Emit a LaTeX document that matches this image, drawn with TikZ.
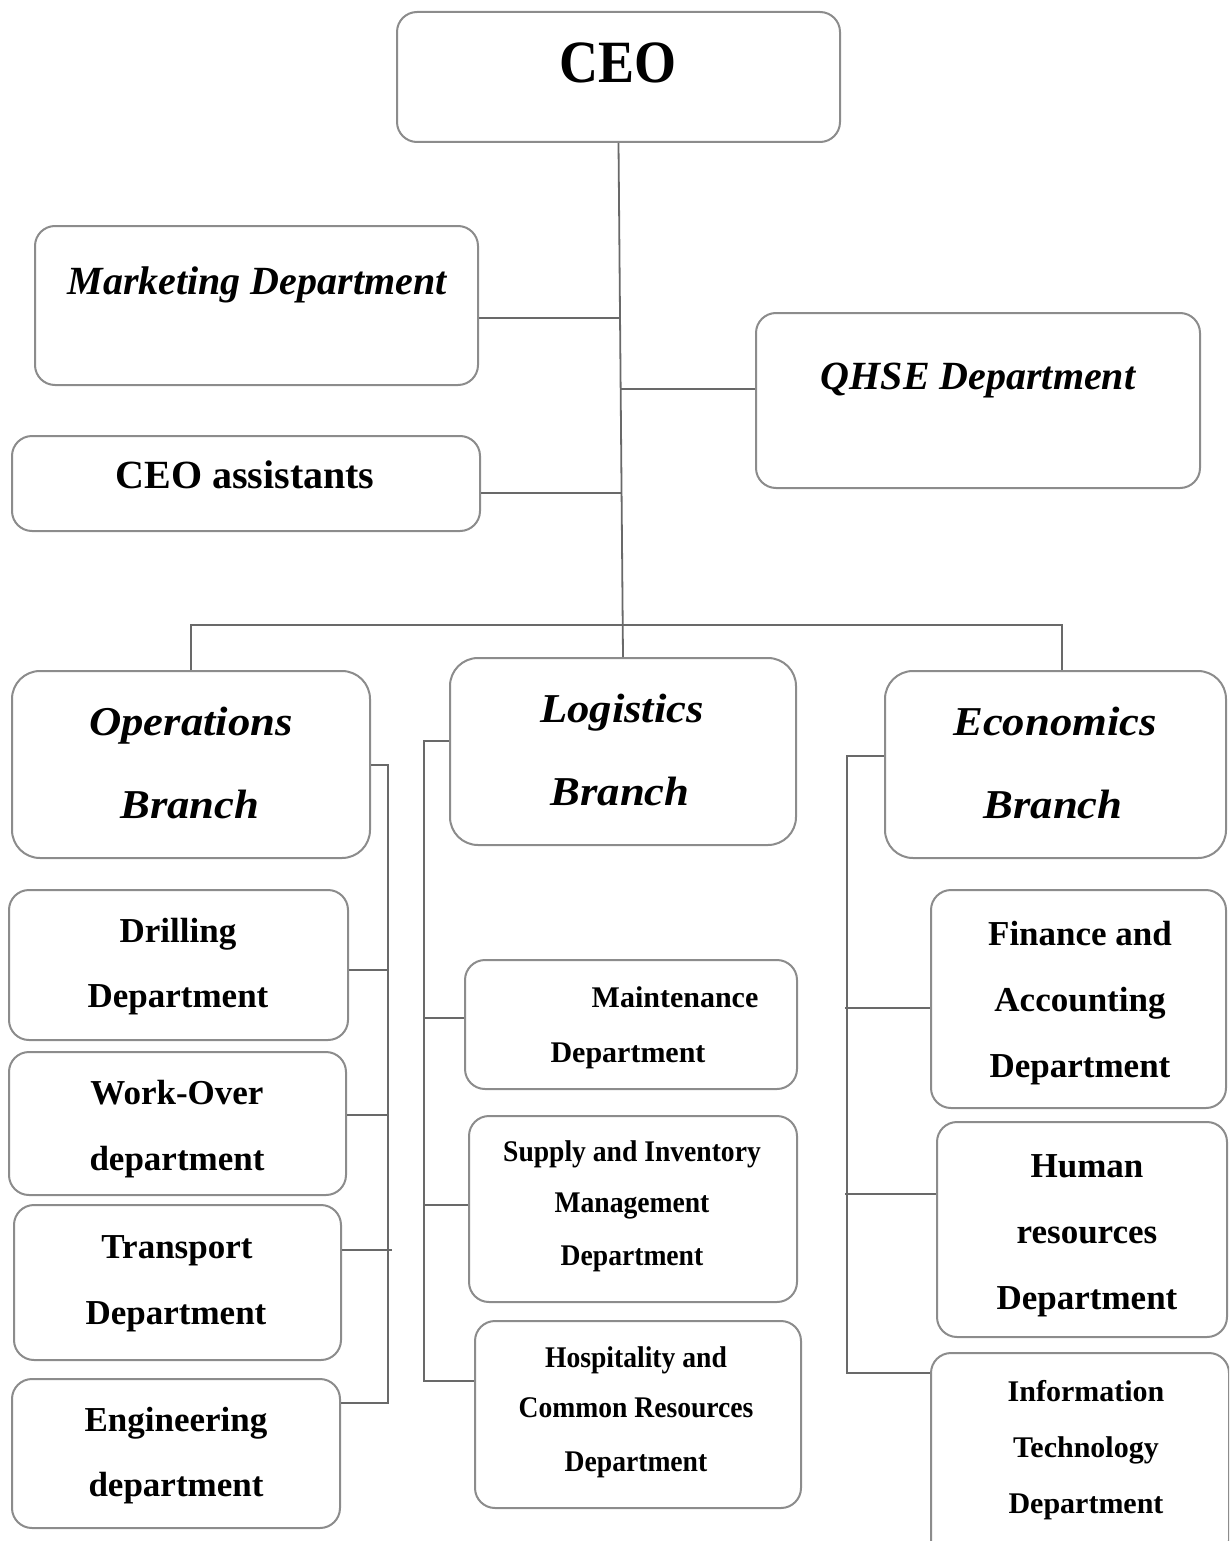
\documentclass[tikz,border=0pt]{standalone}
\usepackage{fontspec}
\setmainfont{Liberation Serif}
\newfontfamily\wideserif[FakeStretch=1.09]{Liberation Serif}
\newfontfamily\narrowserif[FakeStretch=0.9]{Liberation Serif}
\newfontfamily\slimserif[FakeStretch=0.92]{Liberation Serif}
\newcommand\fsz[1]{\fontsize{#1}{#1}\selectfont}
\definecolor{boxgray}{RGB}{140,140,140}
\definecolor{linegray}{RGB}{105,105,105}
\tikzset{
  orgbox/.style={draw=boxgray, line width=2pt, rounded corners=20pt, rectangle,
    inner sep=0pt, fill=white},
  branchbox/.style={orgbox, rounded corners=28pt},
  link/.style={draw=linegray, line width=1.8pt},
  lbl/.style={anchor=base, inner sep=0pt, text=black},
  plain/.style={lbl, font=\bfseries\fsz{#1}},
  slant/.style={lbl, font=\bfseries\itshape\fsz{#1}},
  wide/.style={lbl, font=\wideserif\bfseries\itshape\fsz{#1}},
  slim/.style={lbl, font=\slimserif\bfseries\fsz{#1}},
}
\begin{document}
\begin{tikzpicture}[x=1pt, y=-1pt]
\useasboundingbox (0,0) rectangle (1229,1541);
\clip (0,0) rectangle (1229,1541);

% ---------- top level ----------
\node[orgbox, minimum width=443pt, minimum height=130pt] (ceo)  at (618.5,77) {};
\node[orgbox, minimum width=443pt, minimum height=159pt] (mkt)  at (256.5,305.5) {};
\node[orgbox, minimum width=444pt, minimum height=175pt] (qhse) at (978,400.5) {};
\node[orgbox, minimum width=468pt, minimum height=95pt]  (asst) at (246,483.5) {};

\node[lbl, font=\narrowserif\bfseries\fsz{60}] (ceo-t) at (618,83) {CEO};
\node[slant=40] (mkt-t)  at (257,294) {Marketing Department};
\node[slant=40] (qhse-t) at (978,389) {QHSE Department};
\node[plain=40] (asst-t) at (245,488) {CEO assistants};

% ---------- branches ----------
\node[branchbox, minimum width=358pt, minimum height=187pt] (ops) at (191,764.5) {};
\node[branchbox, minimum width=346pt, minimum height=187pt] (log) at (623,751.5) {};
\node[branchbox, minimum width=341pt, minimum height=187pt] (eco) at (1055.5,764.5) {};

\node[wide=41] (ops-1) at (191,735) {Operations};
\node[wide=41] (ops-2) at (190,818) {Branch};
\node[wide=41] (log-1) at (622,722) {Logistics};
\node[wide=41] (log-2) at (620,805) {Branch};
\node[wide=41] (eco-1) at (1055,735) {Economics};
\node[wide=41] (eco-2) at (1053,818) {Branch};

% ---------- operations departments ----------
\node[orgbox, minimum width=339pt, minimum height=150pt] (drl) at (178.5,965) {};
\node[orgbox, minimum width=337pt, minimum height=143pt] (wko) at (177.5,1123.5) {};
\node[orgbox, minimum width=327pt, minimum height=155pt] (trn) at (177.5,1282.5) {};
\node[orgbox, minimum width=328pt, minimum height=149pt] (eng) at (176,1453.5) {};

\node[plain=35] (drl-1) at (178,942)  {Drilling};
\node[plain=35] (drl-2) at (178,1007) {Department};
\node[plain=35] (wko-1) at (177,1104) {Work-Over};
\node[plain=35] (wko-2) at (177,1170) {department};
\node[plain=35] (trn-1) at (177,1258) {Transport};
\node[plain=35] (trn-2) at (176,1324) {Department};
\node[plain=35] (eng-1) at (176,1431) {Engineering};
\node[plain=35] (eng-2) at (176,1496) {department};

% ---------- logistics departments ----------
\node[orgbox, minimum width=332pt, minimum height=129pt] (mnt) at (631,1024.5) {};
\node[orgbox, minimum width=328pt, minimum height=186pt] (sup) at (633,1209) {};
\node[orgbox, minimum width=326pt, minimum height=187pt] (hos) at (638,1414.5) {};

\node[plain=30] (mnt-1) at (675,1007) {Maintenance};
\node[plain=30] (mnt-2) at (628,1062) {Department};
\node[slim=30] (sup-1) at (632,1161) {Supply and Inventory};
\node[slim=30] (sup-2) at (632,1212) {Management};
\node[slim=30] (sup-3) at (632,1265) {Department};
\node[slim=30] (hos-1) at (636,1367) {Hospitality and};
\node[slim=30] (hos-2) at (636,1417) {Common Resources};
\node[slim=30] (hos-3) at (636,1471) {Department};

% ---------- economics departments ----------
\node[orgbox, minimum width=295pt, minimum height=218pt] (fin) at (1078.5,999) {};
\node[orgbox, minimum width=290pt, minimum height=215pt] (hr)  at (1082,1229.5) {};
\node[orgbox, minimum width=298pt, minimum height=207pt] (it)  at (1080,1456.5) {};

\node[plain=35] (fin-1) at (1080,945)  {Finance and};
\node[plain=35] (fin-2) at (1080,1011) {Accounting};
\node[plain=35] (fin-3) at (1080,1077) {Department};
\node[plain=35] (hr-1)  at (1087,1177) {Human};
\node[plain=35] (hr-2)  at (1087,1243) {resources};
\node[plain=35] (hr-3)  at (1087,1309) {Department};
\node[plain=30] (it-1)  at (1086,1401) {Information};
\node[plain=30] (it-2)  at (1086,1457) {Technology};
\node[plain=30] (it-3)  at (1086,1513) {Department};

% ---------- junction points ----------
\coordinate (jm) at (619,318);
\coordinate (jq) at (620,389);
\coordinate (ja) at (622,493);
\coordinate (bus) at (1062,625);
\coordinate (os1) at (388,765);
\coordinate (os2) at (388,1403);
\coordinate (oc1) at (388,970);
\coordinate (oc2) at (388,1115);
\coordinate (oc3) at (392,1250);
\coordinate (ls1) at (424,741);
\coordinate (ls2) at (424,1381);
\coordinate (lc1) at (424,1018);
\coordinate (lc2) at (424,1205);
\coordinate (es1) at (847,756);
\coordinate (es2) at (847,1373);
\coordinate (ec1) at (845,1008);
\coordinate (ec2) at (845,1194);

% ---------- connectors ----------
\draw[link] (ceo.south) -- (log.north);
\draw[link] (jm) -- (jm -| mkt.east);
\draw[link] (jq) -- (jq -| qhse.west);
\draw[link] (ja) -- (ja -| asst.east);
\draw[link] (ops.north) |- (bus) -- (bus |- eco.north);

\draw[link] (os1 -| ops.east) -- (os1) -- (os2) -- (os2 -| eng.east);
\draw[link] (oc1) -- (oc1 -| drl.east);
\draw[link] (oc2) -- (oc2 -| wko.east);
\draw[link] (oc3) -- (oc3 -| trn.east);

\draw[link] (ls1 -| log.west) -- (ls1) -- (ls2) -- (ls2 -| hos.west);
\draw[link] (lc1) -- (lc1 -| mnt.west);
\draw[link] (lc2) -- (lc2 -| sup.west);

\draw[link] (es1 -| eco.west) -- (es1) -- (es2) -- (es2 -| it.west);
\draw[link] (ec1) -- (ec1 -| fin.west);
\draw[link] (ec2) -- (ec2 -| hr.west);
\end{tikzpicture}
\end{document}
